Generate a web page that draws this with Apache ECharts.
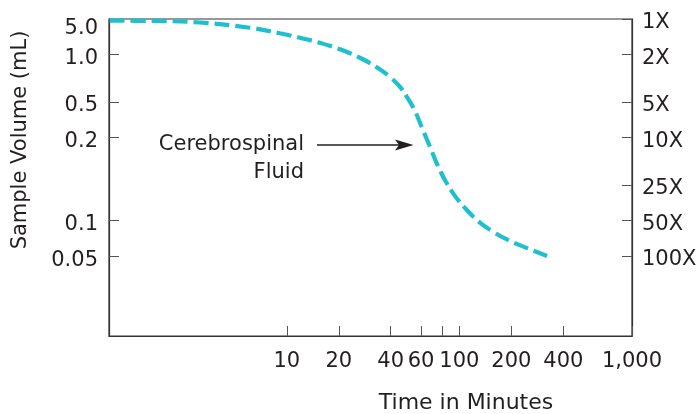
<!DOCTYPE html>
<html>
<head>
<meta charset="utf-8">
<script src="https://cdn.jsdelivr.net/npm/echarts@6/dist/echarts.min.js"></script>
<style>
  html, body { margin: 0; padding: 0; background: #ffffff; }
  #chart { width: 698px; height: 414px; }
</style>
</head>
<body>
<div id="chart"></div>
<script>
// ---- Data ----
// Time (minutes) along the curve
const timeMin = [0.94, 1.61, 3.13, 6.10, 9.11, 11.9, 15.5, 20.3, 26.5, 33.2, 39.5, 45.2, 49.6, 55.2, 61.4, 67.5, 75.1, 83.5, 94.2, 107.6, 128, 154, 191, 249, 322];
// Dilution factor (right axis) along the curve
const dilution = [1.033, 1.038, 1.070, 1.184, 1.318, 1.438, 1.585, 1.80, 2.12, 2.55, 3.07, 3.72, 4.52, 5.93, 8.58, 11.9, 17.3, 23.5, 30.9, 39.0, 50.2, 61.0, 72.6, 85.6, 99.0];

// X axis ticks / labels
const xTickValues = [10, 20, 40, 60, 80, 100, 200, 400, 1000];
const xLabelValues = [10, 20, 40, 60, 100, 200, 400, 1000];
const xLabelTexts = ['10', '20', '40', '60', '100', '200', '400', '1,000'];

// Left axis: sample volume labels, placed at the right-axis dilution levels they sit beside
const volumeLabelAt = [1, 2, 5, 10, 50, 100];
const volumeLabelTexts = ['5.0', '1.0', '0.5', '0.2', '0.1', '0.05'];

// Right axis: dilution labels
const dilutionLabelValues = [1, 2, 5, 10, 25, 50, 100];
const dilutionLabelTexts = ['1X', '2X', '5X', '10X', '25X', '50X', '100X'];

const seriesName = 'Cerebrospinal Fluid';

// ---- Chart ----
const FONT = 'DejaVu Sans';
const TXT = '#231f20';
const AXIS = '#333333';
const TICK = '#555555';

function findIdx(vals, v) {
  for (let i = 0; i < vals.length; i++) {
    if (Math.abs(Math.log10(v) - Math.log10(vals[i])) < 1e-6) return i;
  }
  return -1;
}
function lookup(vals, texts) {
  return function (v) {
    const i = findIdx(vals, v);
    return i < 0 ? '' : texts[i];
  };
}
function richLookup(vals, texts) {
  return function (v) {
    const i = findIdx(vals, v);
    if (i < 0) return '';
    return (i === 0 ? '{first|' : '{n|') + texts[i] + '}';
  };
}

const chart = echarts.init(document.getElementById('chart'), null, { renderer: 'canvas' });

const yMin = 1, yMax = 468;
const labelStyle = { color: TXT, fontFamily: FONT, fontSize: 21 };

const option = {
  animation: false,
  backgroundColor: '#ffffff',
  grid: {
    left: 109, right: 66, top: 19, bottom: 78,
    show: true, borderColor: AXIS, borderWidth: 1.2,
    containLabel: false, outerBoundsMode: 'none'
  },
  xAxis: {
    type: 'log',
    min: 0.933, max: 1000,
    axisLine: { show: true, lineStyle: { color: AXIS, width: 1.2 } },
    axisTick: { show: true, inside: true, length: 10, customValues: xTickValues, lineStyle: { color: TICK, width: 1 } },
    minorTick: { show: false },
    splitLine: { show: false },
    axisLabel: Object.assign({
      customValues: xLabelValues,
      formatter: lookup(xLabelValues, xLabelTexts),
      margin: 15
    }, labelStyle)
  },
  yAxis: [
    {
      type: 'log', position: 'left', inverse: true,
      min: yMin, max: yMax,
      axisLine: { show: true, lineStyle: { color: AXIS, width: 1.2 } },
      axisTick: { show: true, inside: true, length: 10, customValues: volumeLabelAt, lineStyle: { color: TICK, width: 1 } },
      splitLine: { show: false },
      axisLabel: Object.assign({
        customValues: volumeLabelAt,
        formatter: richLookup(volumeLabelAt, volumeLabelTexts),
        margin: 11,
        rich: {
          first: { color: TXT, fontFamily: FONT, fontSize: 21, padding: [20, 0, 0, 0] },
          n: { color: TXT, fontFamily: FONT, fontSize: 21, padding: [8, 0, 0, 0] }
        }
      }, labelStyle)
    },
    {
      type: 'log', position: 'right', inverse: true,
      min: yMin, max: yMax,
      axisLine: { show: true, lineStyle: { color: AXIS, width: 1.2 } },
      axisTick: { show: true, inside: true, length: 10, customValues: dilutionLabelValues, lineStyle: { color: TICK, width: 1 } },
      splitLine: { show: false },
      axisLabel: Object.assign({
        customValues: dilutionLabelValues,
        formatter: richLookup(dilutionLabelValues, dilutionLabelTexts),
        margin: 10,
        rich: {
          first: { color: TXT, fontFamily: FONT, fontSize: 21, padding: [7, 0, 0, 0] },
          n: { color: TXT, fontFamily: FONT, fontSize: 21, padding: [7, 0, 0, 0] }
        }
      }, labelStyle)
    }
  ],
  series: [
    {
      name: seriesName,
      type: 'line',
      yAxisIndex: 1,
      smooth: 0.4,
      showSymbol: false,
      symbol: 'none',
      data: timeMin.map((t, i) => [t, dilution[i]]),
      lineStyle: { color: '#1fc0cd', width: 4.2, type: [15, 6], cap: 'butt' }
    }
  ],
  graphic: [
    {
      type: 'text', x: 304, y: 145,
      style: { text: 'Cerebrospinal', fill: TXT, font: '21px "DejaVu Sans"', textAlign: 'right', textVerticalAlign: 'middle' }
    },
    {
      type: 'text', x: 304, y: 173,
      style: { text: 'Fluid', fill: TXT, font: '21px "DejaVu Sans"', textAlign: 'right', textVerticalAlign: 'middle' }
    },
    {
      type: 'line',
      shape: { x1: 317, y1: 145, x2: 400, y2: 145 },
      style: { stroke: TXT, lineWidth: 1.5 }
    },
    {
      type: 'polygon',
      shape: { points: [[395, 139.5], [413.5, 145], [395, 150.5], [399, 145]] },
      style: { fill: TXT }
    },
    {
      type: 'text', x: 466, y: 403,
      style: { text: 'Time in Minutes', fill: TXT, font: '22px "DejaVu Sans"', textAlign: 'center', textVerticalAlign: 'middle' }
    },
    {
      type: 'text', x: 21, y: 140, rotation: Math.PI / 2,
      style: { text: 'Sample Volume (mL)', fill: TXT, font: '21px "DejaVu Sans"', textAlign: 'center', textVerticalAlign: 'middle' }
    }
  ]
};

chart.setOption(option);
</script>
</body>
</html>
